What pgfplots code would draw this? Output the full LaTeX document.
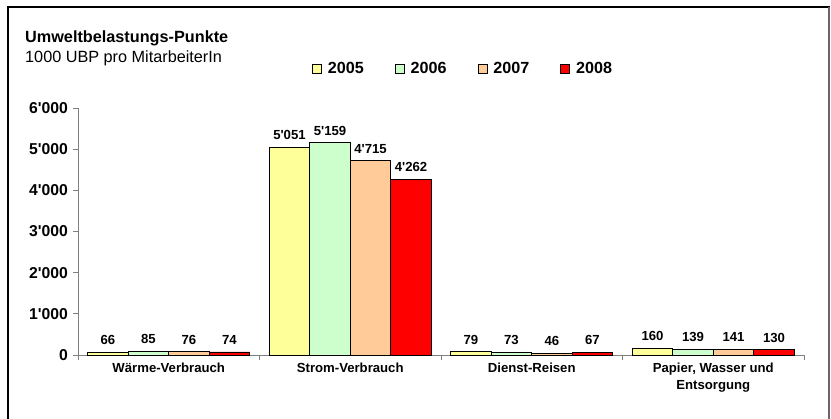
\documentclass[border=0pt]{standalone}
\usepackage{pgfplots}
\pgfplotsset{compat=1.18}
\usepackage{fontspec}
\setmainfont{Liberation Sans}
\definecolor{c05}{HTML}{FFFF99}
\definecolor{c06}{HTML}{CCFFCC}
\definecolor{c07}{HTML}{FFCC99}
\definecolor{c08}{HTML}{FF0000}
\definecolor{axgray}{HTML}{808080}
\begin{document}
\begin{tikzpicture}
\pgfplotsset{sqleg/.style={legend image code/.code={\draw[##1,draw=black,line width=0.8bp] (0bp,-4.5bp) rectangle (9bp,4.5bp);}}}
\begin{axis}[
 at={(0,0)}, anchor=south west,
 scale only axis, width=726bp, height=247bp,
 xmin=-0.5, xmax=3.5, ymin=0, ymax=6000,
 axis x line*=bottom, axis y line*=left,
 axis line style={draw=axgray, line width=0.9bp, -},
 clip=false,
 ybar=0pt, bar width=40.5bp,
 ytick={0,1000,...,6000},
 xtick={-0.5,0.5,1.5,2.5,3.5}, xticklabels={,,,,},
 extra x ticks={0,1,2,3},
 extra x tick labels={Wärme-Verbrauch, Strom-Verbrauch, Dienst-Reisen, {Papier, Wasser und\\Entsorgung}},
 extra x tick style={major tick length=0pt},
 tick align=outside, major tick length=5bp,
 tick style={draw=axgray, line width=0.9bp},
 /pgf/number format/1000 sep={\textquotesingle},
 /pgf/number format/assume math mode=true,
 yticklabel style={font=\bfseries\fontsize{15.8}{16}\selectfont, inner sep=0pt, xshift=-5bp},
 xticklabel style={font=\bfseries\fontsize{13.2}{17}\selectfont, align=center, inner sep=0pt, yshift=-8bp},
 nodes near coords,
 every node near coord/.append style={font=\bfseries\fontsize{13.2}{14}\selectfont, inner sep=0pt, yshift=7bp, black},
 legend columns=4,
 legend style={draw=none, fill=none, at={(axis description cs:0.3223,1.158)}, anchor=west, inner sep=0pt,
   font=\bfseries\fontsize{16.2}{17}\selectfont,
   /tikz/every even column/.append style={column sep=31bp},
   /tikz/every odd column/.append style={column sep=6bp},
   nodes={inner sep=0pt}},
 legend cell align=left,
]
\addplot[fill=c05, draw=black, line width=0.9bp, sqleg] coordinates {(0,66) (1,5051) (2,79) (3,160)};
\addplot[fill=c06, draw=black, line width=0.9bp, sqleg] coordinates {(0,85) (1,5159) (2,73) (3,139)};
\addplot[fill=c07, draw=black, line width=0.9bp, sqleg] coordinates {(0,76) (1,4715) (2,46) (3,141)};
\addplot[fill=c08, draw=black, line width=0.9bp, sqleg] coordinates {(0,74) (1,4262) (2,67) (3,130)};
\legend{2005,2006,2007,2008}
\end{axis}
\node[anchor=base west, inner sep=0pt, font=\bfseries\fontsize{16.3}{17}\selectfont] at (-53bp,312bp) {Umweltbelastungs-Punkte};
\node[anchor=base west, inner sep=0pt, font=\fontsize{16.3}{17}\selectfont] at (-53bp,292bp) {1000 UBP pro MitarbeiterIn};
\draw[line width=2bp] (-70bp,-80bp) -- (-70bp,347.5bp) -- (752bp,347.5bp);
\draw[line width=1.2bp, black!60] (751bp,347.5bp) -- (751bp,-80bp);
\pgfresetboundingbox
\useasboundingbox (-78bp,-64bp) rectangle (753bp,355bp);
\end{tikzpicture}
\end{document}
